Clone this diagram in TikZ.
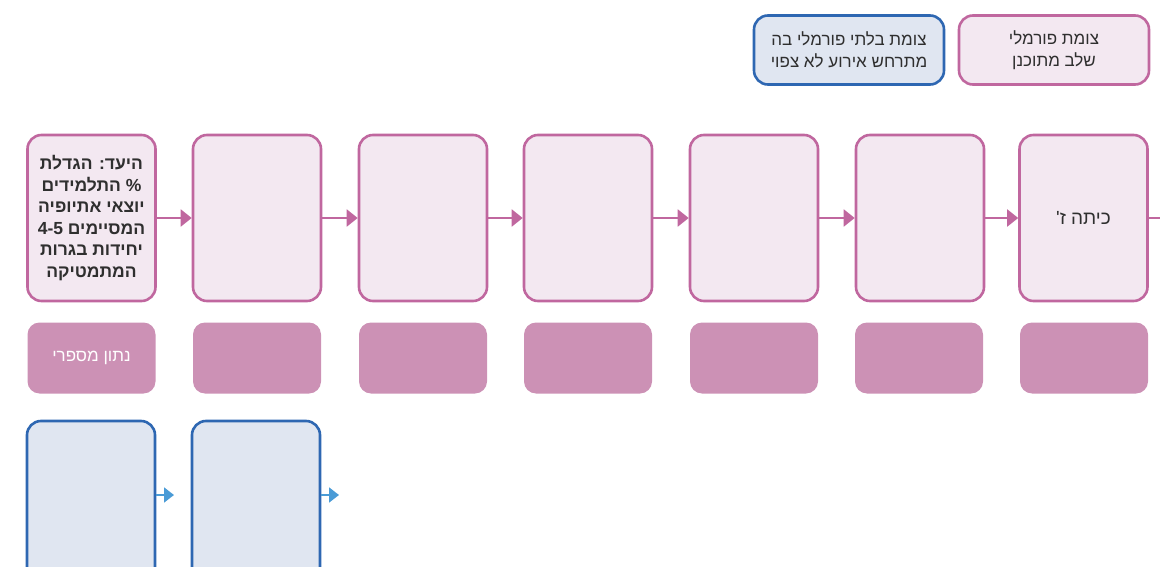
\documentclass[tikz,border=0pt]{standalone}
\usepackage{fontspec}
\usetikzlibrary{arrows.meta}
\newfontfamily\hebfont[Script=Hebrew]{Liberation Sans}
\TeXXeTstate=1
\definecolor{pinkline}{HTML}{C0679F}
\definecolor{pinkfill}{HTML}{F3E8F1}
\definecolor{datafill}{HTML}{CC91B5}
\definecolor{blueline}{HTML}{2E67B2}
\definecolor{bluefill}{HTML}{E0E6F1}
\definecolor{bluearrow}{HTML}{4A9BD6}
\definecolor{txt}{HTML}{2F2F2F}
\tikzset{
  x=1pt, y=-1pt,
  formal/.style={draw=pinkline, fill=pinkfill, line width=2.6pt, rounded corners=14pt,
     minimum width=128pt, minimum height=166pt, inner sep=0pt, align=center,
     font=\hebfont\fontsize{17}{21.5}\selectfont, text=txt},
  informal/.style={draw=blueline, fill=bluefill, line width=2.6pt, rounded corners=14pt,
     minimum width=128pt, minimum height=166pt, inner sep=0pt},
  datab/.style={fill=datafill, rounded corners=12pt, minimum width=128pt, minimum height=71pt,
     inner sep=0pt, font=\hebfont\fontsize{17}{20}\selectfont, text=white},
  legformal/.style={draw=pinkline, fill=pinkfill, line width=2.6pt, rounded corners=14pt,
     minimum width=190pt, minimum height=69pt, inner sep=0pt, align=center,
     font=\hebfont\fontsize{17}{22}\selectfont, text=txt},
  leginformal/.style={legformal, draw=blueline, fill=bluefill},
  pinkarrow/.style={draw=pinkline, line width=2pt, -{Triangle[length=11pt,width=17pt]}},
  bluearr/.style={draw=bluearrow, line width=1.8pt, -{Triangle[length=10pt,width=15pt]}},
}
\begin{document}
\begin{tikzpicture}
\useasboundingbox (0,0) rectangle (1160,567);
\clip (0,0) rectangle (1160,567);
% legend
\node[leginformal] (li) at (849,50) {\beginR צומת בלתי פורמלי בה\endR\\\beginR מתרחש אירוע לא צפוי\endR};
\node[legformal] (lf) at (1054,50) {\beginR צומת פורמלי\endR\\\beginR שלב מתוכנן\endR};
% formal row
\node[formal, font=\hebfont\bfseries\fontsize{17.5}{21.5}\selectfont] (f1) at (91.5,218) {\beginR היעד: הגדלת\endR\\\beginR \% התלמידים\endR\\\beginR יוצאי אתיופיה\endR\\\beginR המסיימים \beginL 4-5\endL\endR\\\beginR יחידות בגרות\endR\\\beginR המתמטיקה\endR};
\node[formal] (f2) at (257,218) {};
\node[formal] (f3) at (423,218) {};
\node[formal] (f4) at (588,218) {};
\node[formal] (f5) at (754,218) {};
\node[formal] (f6) at (920,218) {};
\node[formal, font=\hebfont\fontsize{19}{22}\selectfont] (f7) at (1083.5,218) {\beginR כיתה ז'\endR};
\coordinate (fend) at (1175,218);
\draw[pinkarrow] (f1.east) -- (f2.west);
\draw[pinkarrow] (f2.east) -- (f3.west);
\draw[pinkarrow] (f3.east) -- (f4.west);
\draw[pinkarrow] (f4.east) -- (f5.west);
\draw[pinkarrow] (f5.east) -- (f6.west);
\draw[pinkarrow] (f6.east) -- (f7.west);
\draw[draw=pinkline, line width=2pt] (f7.east) -- (fend);
% data row
\node[datab] (d1) at (91.5,358) {\beginR נתון מספרי\endR};
\node[datab] (d2) at (257,358) {};
\node[datab] (d3) at (423,358) {};
\node[datab] (d4) at (588,358) {};
\node[datab] (d5) at (754,358) {};
\node[datab] (d6) at (919,358) {};
\node[datab] (d7) at (1084,358) {};
% informal row
\node[informal] (i1) at (91,504) {};
\node[informal] (i2) at (256,504) {};
\coordinate (a1) at (174,495);
\coordinate (a2) at (339,495);
\draw[bluearr] (i1.east |- a1) -- (a1);
\draw[bluearr] (i2.east |- a2) -- (a2);
\end{tikzpicture}
\end{document}
